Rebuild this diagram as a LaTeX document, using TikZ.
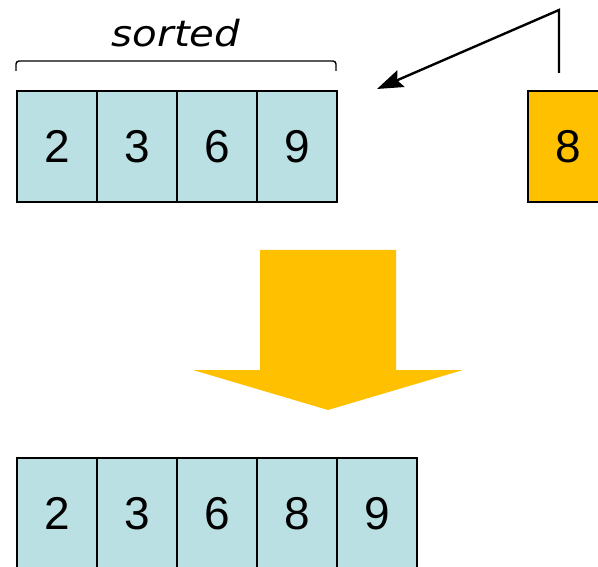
\documentclass[tikz,border=0pt]{standalone}
\usepackage{fontspec}
\setmainfont{Liberation Sans}
\newfontfamily\sortfont{DejaVu Sans}
\usetikzlibrary{arrows.meta}
\definecolor{cellblue}{HTML}{BAE0E3}
\definecolor{gold}{HTML}{FFC000}
\begin{document}
\begin{tikzpicture}[x=1pt,y=-1pt,
  cell/.style={draw=black, line width=2pt, fill=cellblue, minimum width=80pt, minimum height=111pt, inner sep=0pt, anchor=north west, font=\fontsize{46}{46}\selectfont},
  keycell/.style={cell, fill=gold},
  link/.style={line width=2.4pt}]
\useasboundingbox (0,0) rectangle (598,567);
% top sorted array
\node[cell] (a1) at (16,90) {2};
\node[cell] (a2) at (96,90) {3};
\node[cell] (a3) at (176,90) {6};
\node[cell] (a4) at (256,90) {9};
% key
\node[keycell] (k) at (527,90) {8};
% bracket and label
\draw[line width=1.4pt, rounded corners=3pt] (16,71) -- (16,61) -- (336,61) -- (336,71);
\node (lbl) at (176,33) {\sortfont\itshape\fontsize{36}{36}\selectfont\scalebox{1.12}[1]{sorted}};
% insertion arrow
\coordinate (src) at (559,73);
\coordinate (corner) at (559,10);
\coordinate (dst) at (377,89);
\draw[link, -{Stealth[length=26pt,width=18pt,inset=4pt]}] (src) -- (corner) -- (dst);
% big down arrow
\fill[gold] (260,250) -- (396,250) -- (396,370) -- (463,370) -- (328,410) -- (193,370) -- (260,370) -- cycle;
% result array
\node[cell] (b1) at (16,457) {2};
\node[cell] (b2) at (96,457) {3};
\node[cell] (b3) at (176,457) {6};
\node[cell] (b4) at (256,457) {8};
\node[cell] (b5) at (336,457) {9};
\end{tikzpicture}
\end{document}
